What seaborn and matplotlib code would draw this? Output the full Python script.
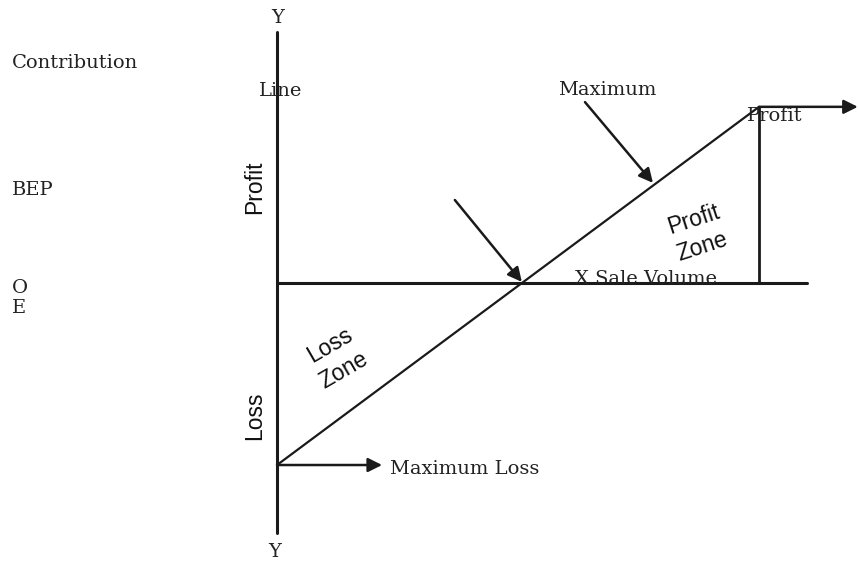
import pandas as pd
import seaborn as sns
import matplotlib.pyplot as plt

# sales volume (units) and profit / loss (units) for the break-even diagram
volume = [0, 10]
contribution = [-5.0, 4.84]
max_volume = 10
axis_length = 11.0
y_axis_top = 6.9
y_axis_bottom = -6.87

sns.set_style('white')

fig = plt.figure(figsize=(8.58, 5.63), dpi=100)
ax = fig.add_axes([0, 0, 1, 1])

df = pd.DataFrame({'volume': volume, 'profit': contribution})

# axes of the diagram
sns.lineplot(x=[0, 0], y=[y_axis_bottom, y_axis_top], color='#1a1a1a', lw=2.2,
             sort=False, estimator=None, ax=ax)
sns.lineplot(x=[0, axis_length], y=[0, 0], color='#1a1a1a', lw=2.2,
             sort=False, estimator=None, ax=ax)
# contribution line
sns.lineplot(data=df, x='volume', y='profit', color='#1a1a1a', lw=1.6,
             sort=False, estimator=None, ax=ax)
# maximum profit drop line
sns.lineplot(x=[max_volume, max_volume], y=[contribution[1], 0], color='#1a1a1a', lw=2.0,
             sort=False, estimator=None, ax=ax)

ap = dict(arrowstyle='-|>', color='#1a1a1a', lw=1.8, mutation_scale=21,
          shrinkA=0, shrinkB=0)
ax.annotate('', xy=(12.05, contribution[1]), xytext=(max_volume, contribution[1]), arrowprops=ap)
ax.annotate('', xy=(2.18, contribution[0]), xytext=(0, contribution[0]), arrowprops=ap)
ax.annotate('', xy=(5.08, 0.03), xytext=(3.69, 2.28), arrowprops=ap)
ax.annotate('', xy=(7.80, 2.75), xytext=(6.39, 4.97), arrowprops=ap)

serif = dict(family='DejaVu Serif', fontsize=14, color='#222222')
sans = dict(family='Liberation Sans', fontsize=16.5, color='#111111')

ax.text(0.02, 7.28, 'Y', ha='center', va='center', **serif)
ax.text(-0.04, -7.39, 'Y', ha='center', va='center', **serif)
ax.text(0.08, 5.27, 'Line', ha='center', va='center', **serif)
ax.text(6.85, 5.30, 'Maximum', ha='center', va='center', **serif)
ax.text(9.75, 4.59, 'Profit', ha='left', va='center', **serif)
ax.text(7.66, 0.11, 'X Sale Volume', ha='center', va='center', **serif)
ax.text(2.34, -5.11, 'Maximum Loss', ha='left', va='center', **serif)

ax.text(-5.50, 6.04, 'Contribution', ha='left', va='center', **serif)
ax.text(-5.50, 2.55, 'BEP', ha='left', va='center', **serif)
ax.text(-5.50, -0.14, 'O', ha='left', va='center', **serif)
ax.text(-5.50, -0.69, 'E', ha='left', va='center', **serif)

ax.text(-0.46, 2.64, 'Profit', rotation=90, ha='center', va='center', **sans)
ax.text(-0.46, -3.65, 'Loss', rotation=90, ha='center', va='center', **sans)
ax.text(1.24, -2.06, 'Loss\nZone', rotation=30, ha='center', va='center',
        linespacing=1.3, rotation_mode='anchor', **sans)
ax.text(8.73, 1.37, 'Profit\nZone', rotation=18, ha='center', va='center',
        linespacing=1.3, rotation_mode='anchor', **sans)

ax.set_xlim(-5.747, 12.054)
ax.set_ylim(-7.692, 7.775)
ax.axis('off')

plt.savefig('out.png', dpi=100, facecolor='white')
